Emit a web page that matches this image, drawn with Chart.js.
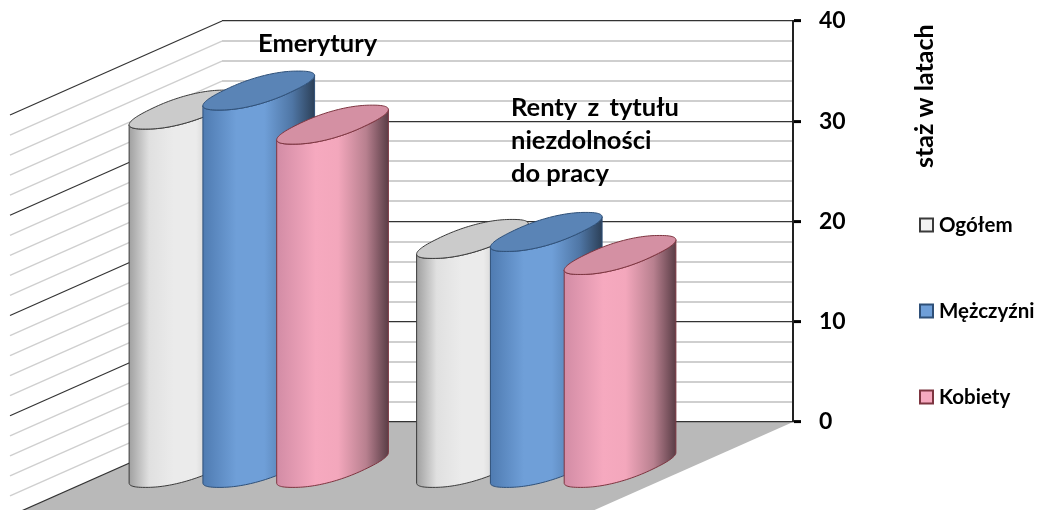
<!DOCTYPE html>
<html>
<head>
<meta charset="utf-8">
<script src="https://cdn.jsdelivr.net/npm/chart.js@4"></script>
<style>
  body { margin: 0; background: #fff; }
  canvas { display: block; }
</style>
</head>
<body>
<canvas id="stazChart" width="1040" height="510"></canvas>
<script>
// values
var categories = ['Emerytury', 'Renty z tytułu niezdolności do pracy'];
var ogolem = [35.8, 22.9];
var mezczyzni = [37.7, 23.6];
var kobiety = [34.3, 21.3];
var axisTitle = 'staż w latach';
var categoryLabelLines = [['Emerytury'], ['Renty z tytułu', 'niezdolności', 'do pracy']];

var fontName = 'Lato, "Open Sans", sans-serif';

// cylinder shading per series, stops run left to right over the body
var cylinderStyles = [
    { stops: [[0, '#a0a0a0'], [0.18, '#e0e0e0'], [0.4, '#ebebeb'], [0.6, '#ebebeb'], [1, '#8d8d8d']], top: '#cbcbcb', line: '#3a3a3a', legend: '#f2f2f2' },
    { stops: [[0, '#4f7bb1'], [0.3, '#6f9fd8'], [0.55, '#6f9fd8'], [0.8, '#4f76a5'], [1, '#2c4058']], top: '#5a84b6', line: '#2f5078', legend: '#6f9fd8' },
    { stops: [[0, '#d28ca5'], [0.35, '#f6a9bf'], [0.55, '#f3a7bc'], [0.8, '#b8808f'], [1, '#5a3d46']], top: '#d490a3', line: '#7d3540', legend: '#f6a9bf' }
];

// depth projection: how far the cylinders stand in front of the back wall
var wallDepthX = 212, wallDepthY = 94;
var barDepthX = 107, barDepthY = 46.5;
var frontScale = 1.007;

// outline of a cylinder end: a rounded ellipse sheared along the floor's depth direction
function capOutline(cx, cy, hw) {
    var pts = [], steps = 120, i, c, s;
    for (i = 0; i < steps; i++) {
        c = Math.cos(Math.PI * 2 * i / steps);
        s = Math.sin(Math.PI * 2 * i / steps);
        c = Math.sign(c) * Math.pow(Math.abs(c), 0.85);
        s = Math.sign(s) * Math.pow(Math.abs(s), 0.85);
        pts.push([cx + hw * (0.63 * c + 0.71 * s), cy - 19.5 * s]);
    }
    return pts;
}

// the half of the outline that faces the viewer, left end to right end
function frontHalf(pts) {
    var left = 0, right = 0, out = [], i;
    pts.forEach(function(p, k) {
        if (p[0] < pts[left][0]) left = k;
        if (p[0] > pts[right][0]) right = k;
    });
    for (i = left; i !== right; i = (i + 1) % pts.length) out.push(pts[i]);
    out.push(pts[right]);
    return out;
}

function tracePath(ctx, pts) {
    pts.forEach(function(p, i) {
        if (i === 0) ctx.moveTo(p[0], p[1]); else ctx.lineTo(p[0], p[1]);
    });
}

function drawCylinder(ctx, area, el, style) {
    var cx = area.left + (el.x - area.left) * frontScale - barDepthX;
    var topY = el.y + barDepthY;
    var baseY = el.base + barDepthY;
    var hw = el.width / 2;
    var topCap = capOutline(cx, topY, hw);
    var grad = ctx.createLinearGradient(cx - hw, 0, cx + hw, 0);
    style.stops.forEach(function(s) { grad.addColorStop(s[0], s[1]); });

    // body
    ctx.beginPath();
    tracePath(ctx, frontHalf(capOutline(cx, baseY, hw)).concat(frontHalf(topCap).reverse()));
    ctx.closePath();
    ctx.fillStyle = grad;
    ctx.fill();
    ctx.strokeStyle = style.line;
    ctx.lineWidth = 1;
    ctx.stroke();

    // top cap
    ctx.beginPath();
    tracePath(ctx, topCap);
    ctx.closePath();
    ctx.fillStyle = style.top;
    ctx.fill();
    ctx.stroke();
}

var room3d = {
    id: 'room3d',
    beforeDraw: function(chart) {
        var ctx = chart.ctx, a = chart.chartArea, y = chart.scales.y;
        var zeroY = y.getPixelForValue(0);
        var slope = wallDepthY / wallDepthX;
        var drop = chart.height - zeroY;

        // floor
        ctx.save();
        ctx.beginPath();
        ctx.moveTo(a.left, zeroY);
        ctx.lineTo(a.right, zeroY);
        ctx.lineTo(a.right - drop / slope, chart.height);
        ctx.lineTo(a.left - drop / slope, chart.height);
        ctx.closePath();
        ctx.fillStyle = '#b9b9b9';
        ctx.fill();

        // side wall, one line per tick of the value axis
        y.ticks.forEach(function(tick) {
            var py = y.getPixelForValue(tick.value);
            ctx.beginPath();
            ctx.moveTo(a.left, py);
            ctx.lineTo(a.left - wallDepthX, py + wallDepthY);
            ctx.strokeStyle = tick.value % 10 === 0 ? '#333333' : '#cfcfcf';
            ctx.lineWidth = tick.value % 10 === 0 ? 1.2 : 1.4;
            ctx.stroke();
        });
        ctx.restore();
    },
    beforeDatasetDraw: function() {
        return false; // the bars are painted as cylinders below
    },
    afterDatasetsDraw: function(chart) {
        var ctx = chart.ctx, a = chart.chartArea;
        ctx.save();
        chart.data.datasets.forEach(function(ds, i) {
            chart.getDatasetMeta(i).data.forEach(function(el) {
                drawCylinder(ctx, a, el, cylinderStyles[i]);
            });
        });
        ctx.restore();
    },
    afterDraw: function(chart) {
        var ctx = chart.ctx;
        ctx.save();
        ctx.fillStyle = '#000';
        ctx.textAlign = 'left';
        ctx.textBaseline = 'alphabetic';

        // category captions
        ctx.font = 'bold 25.5px ' + fontName;
        ctx.fillText(categoryLabelLines[0][0], 258, 52);
        categoryLabelLines[1].forEach(function(line, i) {
            ctx.wordSpacing = i === 0 ? '4px' : '0px';
            ctx.fillText(line, 511, 116 + i * 33);
        });
        ctx.wordSpacing = '0px';

        // axis title
        ctx.save();
        ctx.translate(933, 168);
        ctx.rotate(-Math.PI / 2);
        ctx.font = 'bold 25px ' + fontName;
        ctx.fillText(axisTitle, 0, 0);
        ctx.restore();

        // legend
        ctx.font = 'bold 20.5px ' + fontName;
        ctx.textBaseline = 'middle';
        chart.data.datasets.forEach(function(ds, i) {
            var ly = 225 + i * 86;
            ctx.fillStyle = cylinderStyles[i].legend;
            ctx.strokeStyle = cylinderStyles[i].line;
            ctx.lineWidth = 2;
            ctx.fillRect(920, ly - 6.5, 13, 13);
            ctx.strokeRect(920, ly - 6.5, 13, 13);
            ctx.fillStyle = '#000';
            ctx.fillText(ds.label, 939, ly);
        });
        ctx.restore();
    }
};

new Chart(document.getElementById('stazChart').getContext('2d'), {
    type: 'bar',
    data: {
        labels: categories,
        datasets: [
            { label: 'Ogółem', data: ogolem, backgroundColor: '#ebebeb' },
            { label: 'Mężczyźni', data: mezczyzni, backgroundColor: '#6f9fd8' },
            { label: 'Kobiety', data: kobiety, backgroundColor: '#f6a9bf' }
        ]
    },
    options: {
        responsive: false,
        animation: false,
        layout: { padding: { left: 222, top: 21, bottom: 88 } },
        categoryPercentage: 0.77,
        barPercentage: 1.525,
        plugins: { legend: { display: false }, tooltip: { enabled: false } },
        scales: {
            x: { display: false },
            y: {
                position: 'right',
                min: 0,
                max: 40,
                afterFit: function(scale) {
                    scale.width = 247;
                    scale.paddingTop = 0;
                    scale.paddingBottom = 0;
                },
                border: { display: true, color: '#222', width: 2 },
                grid: {
                    color: function(c) { return c.tick.value % 10 === 0 ? '#333333' : '#cfcfcf'; },
                    lineWidth: function(c) { return c.tick.value % 10 === 0 ? 1.2 : 2; },
                    tickColor: function(c) { return c.tick.value % 10 === 0 ? '#000' : 'rgba(0,0,0,0)'; },
                    tickWidth: function(c) { return c.tick.value % 10 === 0 ? 3 : 0; },
                    tickLength: 8
                },
                ticks: {
                    stepSize: 2,
                    autoSkip: false,
                    padding: 18,
                    color: '#000',
                    font: { family: fontName, size: 23, weight: 'bold' },
                    callback: function(v) { return v % 10 === 0 ? v : ''; }
                }
            }
        }
    },
    plugins: [room3d]
});
</script>
</body>
</html>
